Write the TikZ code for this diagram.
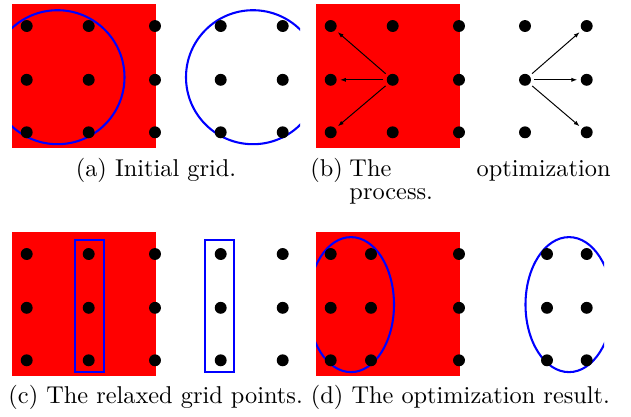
\documentclass[tikz,border=0pt]{standalone}
\usetikzlibrary{arrows.meta}

\tikzset{
  dot/.style={circle, fill=black, inner sep=0pt, minimum size=4.9pt, outer sep=1.4pt},
  redarea/.style={fill=red},
  region/.style={draw=blue, line width=0.85pt},
  move/.style={-{Latex[length=2.4pt,width=1.7pt]}, thin},
  subcap/.style={inner sep=0pt}
}

\begin{document}
\begin{tikzpicture}[x=0.411pt, y=-0.411pt]
    \useasboundingbox (0,0) rectangle (631,416);

    % (a) 初始网格
    \fill[redarea] (12,4) rectangle (156,147.5);
    \begin{scope}
        \clip (12,0) rectangle (300,160);
        \draw[region] (57.5,77.2) circle (67);
        \draw[region] (253,77.2) circle (67);
    \end{scope}
    \foreach \c/\x in {1/26.7,2/88.7,3/155,4/220.7,5/282.7}
        \foreach \r/\y in {1/26,2/79.8,3/132.3}
            \node[dot] (a\c\r) at (\x,\y) {};
    \node[subcap, anchor=base] (capA) at (156,176) {(a) Initial grid.};

    % (b) 优化过程
    \fill[redarea] (316,4) rectangle (460,147.5);
    \foreach \c/\x in {1/330.7,2/392.7,3/459,4/525,5/586.7}
        \foreach \r/\y in {1/26,2/79.8,3/132.3}
            \node[dot] (b\c\r) at (\x,\y) {};
    \draw[move] (b22) -- (b11);
    \draw[move] (b22) -- (b12);
    \draw[move] (b22) -- (b13);
    \draw[move] (b42) -- (b51);
    \draw[move] (b42) -- (b52);
    \draw[move] (b42) -- (b53);
    \node[subcap, anchor=base west] (capB) at (310,176) {(b)};
    \node[subcap, anchor=base west] (capB1) at (349,176) {\makebox[107.3pt][s]{The optimization}};
    \node[subcap, anchor=base west] (capB2) at (349,199.5) {process.};

    % (c) 松弛的网格点
    \fill[redarea] (12,232) rectangle (156,375.5);
    \foreach \c/\x in {1/26.7,2/88.7,3/155,4/220.7,5/282.7}
        \foreach \r/\y in {1/254,2/307.8,3/360.3}
            \node[dot] (c\c\r) at (\x,\y) {};
    \draw[region] (74.7,239.8) rectangle (103.7,372.3);
    \draw[region] (205.3,239.8) rectangle (234,372.3);
    \node[subcap, anchor=base west] (capC) at (8,403) {(c) The relaxed grid points.};

    % (d) 优化结果
    \fill[redarea] (316,232) rectangle (460,375.5);
    \begin{scope}
        \clip (316,228) rectangle (604,390);
        \draw[region] (351,304.6) ellipse (43 and 67.5);
        \draw[region] (569,304.6) ellipse (43.5 and 67.5);
    \end{scope}
    \foreach \c/\x in {1/330.7,2/371,3/459,4/547,5/586.7}
        \foreach \r/\y in {1/254,2/307.8,3/360.3}
            \node[dot] (d\c\r) at (\x,\y) {};
    \node[subcap, anchor=base west] (capD) at (310.5,403) {(d) The optimization result.};
\end{tikzpicture}
\end{document}
